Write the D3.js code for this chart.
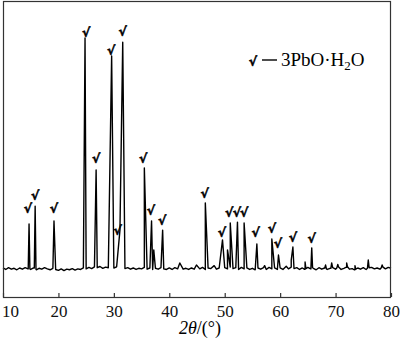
<!DOCTYPE html>
<html>
<head>
<meta charset="utf-8">
<script src="https://cdn.jsdelivr.net/npm/d3@7"></script>
<style>
  body { margin: 0; background: #fff; }
  svg { display: block; }
  .tick text { font-family: "Liberation Serif", serif; font-size: 17px; fill: #111; }
</style>
</head>
<body>
<div class="xrd"></div>
<script>
// baseline intensity, 10.0 to 80.0 deg in 0.5 deg steps
const baseStart = 10;
const baseStep = 0.5;
const baseline = [
  98, 93, 99, 94, 97, 92, 98, 94, 99, 95, 93, 98, 92, 97, 94, 99, 95, 92, 97, 93,
  90, 95, 89, 94, 92, 96, 91, 95, 93, 98, 95, 100, 96, 102, 99, 103, 97, 101, 99, 104,
  98, 102, 97, 103, 96, 99, 94, 98, 93, 97, 95, 100, 94, 98, 93, 97, 94, 99, 95, 93,
  98, 93, 99, 95, 100, 94, 97, 93, 98, 94, 99, 95, 100, 93, 98, 96, 101, 94, 98, 93,
  99, 95, 101, 96, 99, 93, 100, 95, 98, 93, 97, 92, 98, 94, 99, 93, 100, 95, 98, 93,
  98, 93, 99, 95, 101, 96, 99, 93, 98, 94, 100, 95, 97, 92, 99, 94, 98, 93, 97, 99,
  94, 99, 93, 97, 100, 94, 96, 92, 98, 94, 99, 93, 97, 100, 95, 98, 94, 99, 95, 100,
  97
];

// peaks: [2theta, intensity]
const peaks = [
  [14.7, 247], [15.8, 307], [19.2, 257], [24.8, 875], [26.8, 429],
  [29.6, 814], [31.1, 226], [31.6, 861], [35.5, 436], [36.8, 257],
  [37.2, 159], [38.8, 226], [41.9, 115], [44.9, 108], [46.5, 318],
  [48.1, 106], [49.6, 193], [50.5, 159], [51.0, 250], [52.3, 253],
  [53.5, 250], [55.8, 179], [57.2, 106], [58.5, 196], [59.7, 142],
  [61.1, 104], [62.0, 125], [62.3, 169], [64.5, 118], [65.7, 166],
  [68.2, 108], [69.3, 115], [70.4, 110], [72.0, 115], [73.5, 106],
  [75.9, 125], [78.4, 108]
];
const peakFoot = 0.15;

// check marks: [2theta, intensity at bottom of mark]
const marks = [
  [14.5, 284], [15.8, 328], [19.2, 284], [25.0, 878], [26.8, 453],
  [29.5, 818], [30.7, 209], [31.6, 882], [35.3, 453], [36.7, 277],
  [38.7, 243], [46.4, 334], [49.5, 203], [50.8, 270], [52.2, 270],
  [53.5, 270], [55.6, 203], [58.5, 216], [59.6, 166], [62.3, 186],
  [65.7, 182]
];

const xTicks = [10, 20, 30, 40, 50, 60, 70, 80];
const xLabel = "2θ/(°)";
const legendLabel = "3PbO·H";

const svgWidth = 400;
const svgHeight = 344;
const svg = d3.select(".xrd").append("svg")
  .attr("width", svgWidth).attr("height", svgHeight);

const plotLeft = 3, plotRight = 391, plotTop = 1, plotBottom = 297;

const xScale = d3.scaleLinear().domain([10, 80]).range([plotLeft, plotRight]);
const yScale = d3.scaleLinear().domain([0, 1000]).range([plotBottom, plotTop]);

// assemble pattern points from baseline grid and peaks
const baseAt = (t) => baseline[Math.min(baseline.length - 1, Math.max(0, Math.round((t - baseStart) / baseStep)))];
const pts = baseline.map((v, i) => [baseStart + i * baseStep, v]);
peaks.forEach(([t, h]) => {
  pts.push([t - peakFoot, baseAt(t - peakFoot)]);
  pts.push([t, h]);
  pts.push([t + peakFoot, baseAt(t + peakFoot) + 2]);
});
// drop grid points that fall inside a peak's foot range
const data = pts
  .filter((p) => !peaks.some(([t]) => Math.abs(p[0] - t) < peakFoot && p[0] !== t))
  .sort((a, b) => a[0] - b[0]);

const line = d3.line()
  .x((d) => xScale(d[0]))
  .y((d) => yScale(d[1]));

svg.append("path")
  .datum(data)
  .attr("d", line)
  .attr("fill", "none")
  .attr("stroke", "#000")
  .attr("stroke-width", 1.4)
  .attr("stroke-linejoin", "round");

// frame
svg.append("rect")
  .attr("x", plotLeft + 0.5).attr("y", plotTop + 0.5)
  .attr("width", plotRight - plotLeft - 1).attr("height", plotBottom - plotTop)
  .attr("fill", "none")
  .attr("stroke", "#333")
  .attr("stroke-width", 1.2);

const xAxisG = svg.append("g")
  .attr("transform", `translate(0, ${plotBottom})`)
  .call(d3.axisBottom(xScale).tickValues(xTicks).tickSizeInner(-4).tickSizeOuter(0).tickPadding(8));
xAxisG.select(".domain").remove();
xAxisG.selectAll(".tick line").attr("stroke", "#333").attr("stroke-width", 1.2);
xAxisG.selectAll(".tick text").filter((d) => d === 10).attr("x", 7);

svg.append("text")
  .attr("x", 200).attr("y", 334)
  .attr("text-anchor", "middle")
  .attr("font-family", "Liberation Serif, serif")
  .attr("font-size", 18)
  .call((t) => {
    t.append("tspan").attr("font-style", "italic").text(xLabel.slice(0, 2));
    t.append("tspan").text(xLabel.slice(2));
  });

// check marks over peaks
svg.selectAll("text.mark")
  .data(marks)
  .enter()
  .append("text")
  .attr("class", "mark")
  .attr("x", (d) => xScale(d[0]))
  .attr("y", (d) => yScale(d[1]))
  .attr("text-anchor", "middle")
  .attr("font-family", "DejaVu Sans, sans-serif")
  .attr("font-weight", "bold")
  .attr("font-size", 12.5)
  .attr("fill", "#000")
  .attr("stroke", "#000")
  .attr("stroke-width", 0.5)
  .text("√");

// legend
svg.append("text")
  .attr("x", 253).attr("y", 66)
  .attr("text-anchor", "middle")
  .attr("font-family", "DejaVu Sans, sans-serif")
  .attr("font-weight", "bold")
  .attr("font-size", 12.5)
  .attr("fill", "#000")
  .attr("stroke", "#000")
  .attr("stroke-width", 0.5)
  .text("√");
svg.append("line")
  .attr("x1", 262).attr("x2", 277)
  .attr("y1", 60).attr("y2", 60)
  .attr("stroke", "#000").attr("stroke-width", 1.4);
svg.append("text")
  .attr("x", 281).attr("y", 66)
  .attr("font-family", "Liberation Serif, serif")
  .attr("font-size", 19)
  .attr("fill", "#000")
  .call((t) => {
    t.append("tspan").text(legendLabel);
    t.append("tspan").attr("font-size", 13).attr("dy", 4).text("2");
    t.append("tspan").attr("dy", -4).text("O");
  });
</script>
</body>
</html>
